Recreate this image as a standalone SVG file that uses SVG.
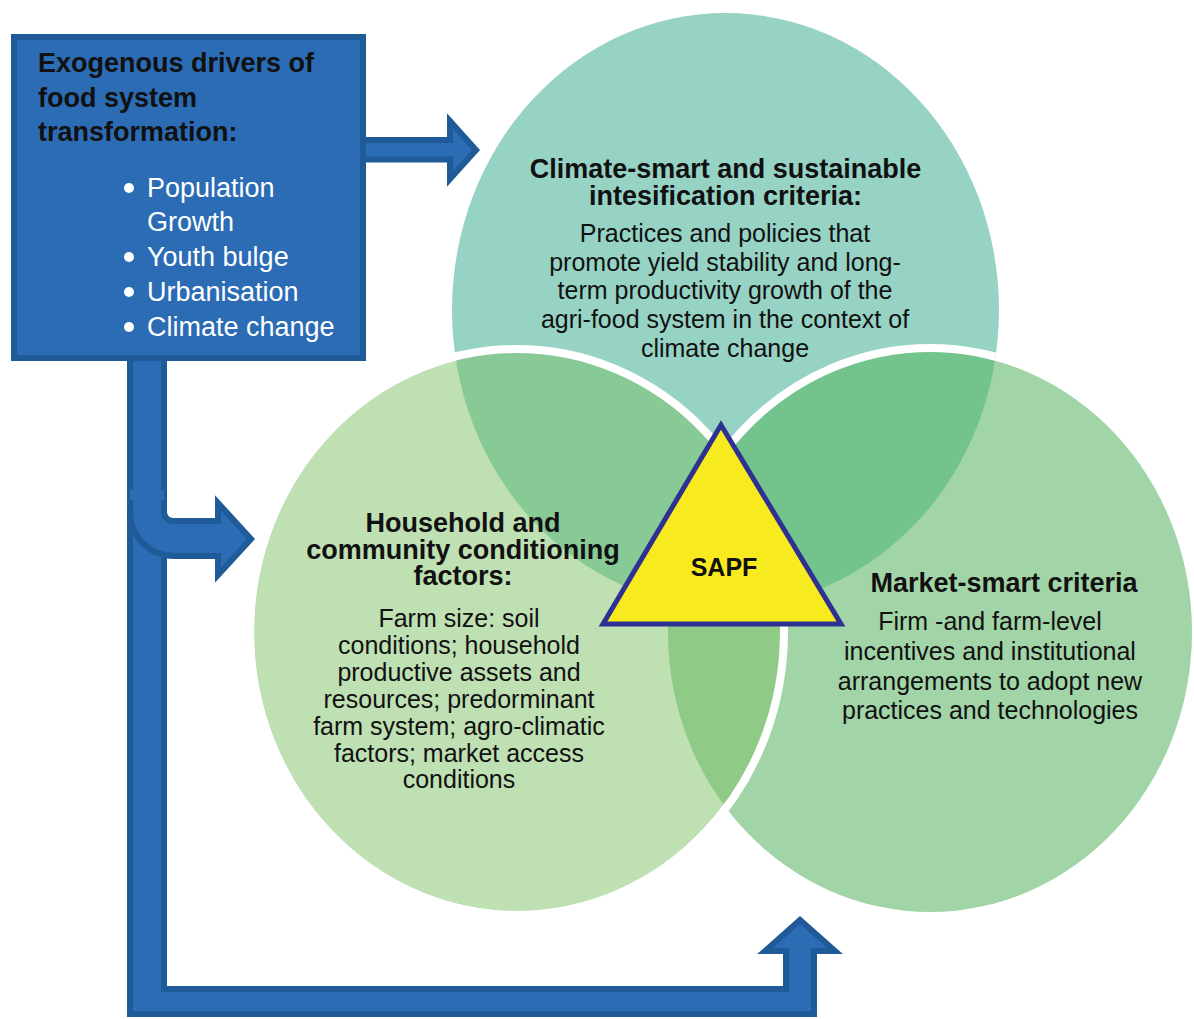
<svg xmlns="http://www.w3.org/2000/svg" width="1194" height="1019" viewBox="0 0 1194 1019">
<style>
.t{font-family:"Liberation Sans",Arial,sans-serif;fill:#111;}
.b{font-weight:bold;}
.h{font-size:27px;font-weight:bold;text-anchor:middle;}
.r{font-size:25px;text-anchor:middle;}
.w{fill:#fff;font-size:27px;}
.blue{fill:#2b6cb4;stroke:#1f5a99;stroke-width:6;stroke-linejoin:miter;}
</style>
<defs>
<clipPath id="cL"><ellipse cx="517" cy="632" rx="263" ry="279"/></clipPath>
<clipPath id="cR"><ellipse cx="930" cy="632" rx="262" ry="280"/></clipPath>
<mask id="mR" maskUnits="userSpaceOnUse" x="0" y="0" width="1194" height="1019">
<ellipse cx="725.5" cy="310" rx="273.5" ry="297" fill="#fff"/>
<ellipse cx="517" cy="632" rx="263" ry="279" fill="#000"/>
</mask>
</defs>
<rect width="1194" height="1019" fill="#fff"/>
<g id="circle-top"><ellipse cx="725.5" cy="310" rx="273.5" ry="297" fill="#96d3c4"/></g>
<g id="circle-left"><ellipse cx="517" cy="632" rx="263" ry="279" fill="#bfe0b3"/></g>
<g id="circle-right"><ellipse cx="930" cy="632" rx="262" ry="280" fill="#a1d4a6"/></g>
<g id="overlaps">
<ellipse cx="725.5" cy="310" rx="273.5" ry="297" fill="#88ca96" clip-path="url(#cL)"/>
<ellipse cx="725.5" cy="310" rx="273.5" ry="297" fill="#72c48c" clip-path="url(#cR)"/>
<g clip-path="url(#cR)"><ellipse cx="517" cy="632" rx="263" ry="279" fill="#8fcb86"/></g>
<ellipse cx="930" cy="632" rx="266" ry="284" fill="none" stroke="#fff" stroke-width="8" mask="url(#mR)"/>
<ellipse cx="517" cy="632" rx="267" ry="283" fill="none" stroke="#fff" stroke-width="8"/>
</g>
<g id="sapf">
<polygon points="721,425 603,624 841,624" fill="#f7ea1f" stroke="#2e3192" stroke-width="5" stroke-linejoin="miter"/>
<text class="t b" x="724" y="576" font-size="25" text-anchor="middle">SAPF</text>
</g>
<g id="connectors">
<path class="blue" d="M130,350 V1014 H814 V951 H835 L800,920 L765,951 H786 V989 H164 V350 Z"/>
<path d="M130,490 V512 A44,44 0 0 0 174,556 H218 V575 L251,539 L218,503 V521 H173 A9,9 0 0 1 164,512 V490 Z" fill="#2b6cb4"/>
<path d="M130,500 V512 A44,44 0 0 0 174,556 H218 V575 L251,539 L218,503 V521 H173 A9,9 0 0 1 164,512 V500" fill="none" stroke="#1f5a99" stroke-width="6"/>
<path class="blue" d="M355,140 H450 V121 L476,150 L450,179 V159.5 H355 Z"/>
</g>
<g id="drivers-box">
<rect class="blue" x="14" y="37" width="349" height="321"/>
<text class="t b" font-size="27" x="38" y="72">Exogenous drivers of</text>
<text class="t b" font-size="27" x="38" y="107">food system</text>
<text class="t b" font-size="27" x="38" y="141">transformation:</text>
<g fill="#fff">
<circle cx="129" cy="188" r="5"/>
<circle cx="129" cy="257" r="5"/>
<circle cx="129" cy="292" r="5"/>
<circle cx="129" cy="327" r="5"/>
</g>
<text class="t w" x="147" y="197">Population</text>
<text class="t w" x="147" y="231">Growth</text>
<text class="t w" x="147" y="266">Youth bulge</text>
<text class="t w" x="147" y="301">Urbanisation</text>
<text class="t w" x="147" y="336">Climate change</text>
</g>
<g id="top-text">
<text class="t h" x="725.5" y="178">Climate-smart and sustainable</text>
<text class="t h" x="725.5" y="205">intesification criteria:</text>
<text class="t r" x="725" y="242">Practices and policies that</text>
<text class="t r" x="725" y="271">promote yield stability and long-</text>
<text class="t r" x="725" y="299">term productivity growth of the</text>
<text class="t r" x="725" y="328">agri-food system in the context of</text>
<text class="t r" x="725" y="357">climate change</text>
</g>
<g id="left-text">
<text class="t h" x="463" y="532">Household and</text>
<text class="t h" x="463" y="559">community conditioning</text>
<text class="t h" x="463" y="585">factors:</text>
<text class="t r" x="459" y="627">Farm size: soil</text>
<text class="t r" x="459" y="654">conditions; household</text>
<text class="t r" x="459" y="681">productive assets and</text>
<text class="t r" x="459" y="708">resources; predorminant</text>
<text class="t r" x="459" y="735">farm system; agro-climatic</text>
<text class="t r" x="459" y="762">factors; market access</text>
<text class="t r" x="459" y="788">conditions</text>
</g>
<g id="right-text">
<text class="t h" x="1004" y="592" font-size="28">Market-smart criteria</text>
<text class="t r" x="990" y="630">Firm -and farm-level</text>
<text class="t r" x="990" y="660">incentives and institutional</text>
<text class="t r" x="990" y="690">arrangements to adopt new</text>
<text class="t r" x="990" y="719">practices and technologies</text>
</g>
</svg>
